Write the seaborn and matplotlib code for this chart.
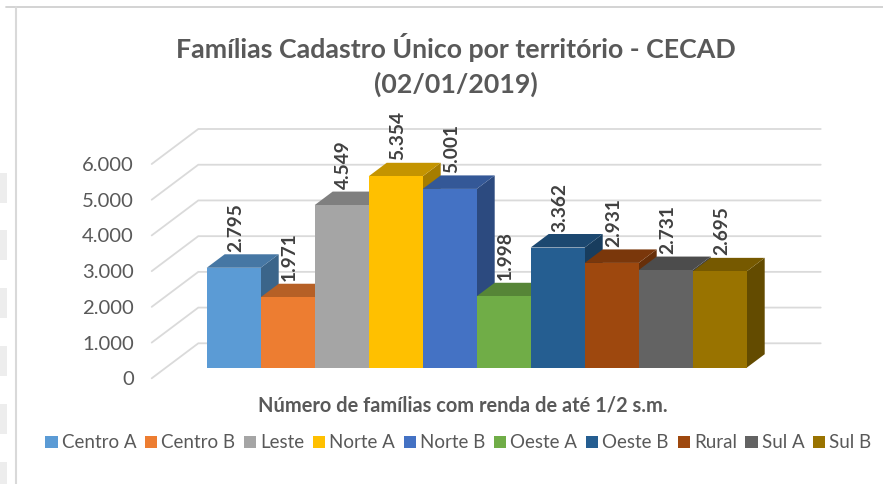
import numpy as np
import pandas as pd
import matplotlib
matplotlib.use("Agg")
import matplotlib.pyplot as plt
from matplotlib.colors import to_rgb
from matplotlib.lines import Line2D
from matplotlib.patches import Patch, Polygon, Rectangle
from matplotlib.transforms import Affine2D
import seaborn as sns

territories = ["Centro A", "Centro B", "Leste", "Norte A", "Norte B",
               "Oeste A", "Oeste B", "Rural", "Sul A", "Sul B"]
families = [2795, 1971, 4549, 5354, 5001, 1998, 3362, 2931, 2731, 2695]
colors = ["#5B9BD5", "#ED7D31", "#A5A5A5", "#FFC000", "#4472C4",
          "#70AD47", "#255E91", "#9E480E", "#636363", "#997300"]
y_ticks = [0, 1000, 2000, 3000, 4000, 5000, 6000]
y_tick_labels = ["0", "1.000", "2.000", "3.000", "4.000", "5.000", "6.000"]
title_text = "Famílias Cadastro Único por território - CECAD\n(02/01/2019)"
xlabel_text = "Número de famílias com renda de até 1/2 s.m."

W, H = 883, 484
sns.set_theme(style="white")
plt.rcParams["font.family"] = ["Lato", "DejaVu Sans"]
TEXT = "#595959"

fig = plt.figure(figsize=(W / 100, H / 100), dpi=100, facecolor="white")

def px_axes(x0, y_top, x1, y_bot):
    return fig.add_axes([x0 / W, 1 - y_bot / H, (x1 - x0) / W, (y_bot - y_top) / H])

# --- sheet artefacts around the picture -------------------------------------
pix = Affine2D().scale(1, -1).translate(0, H)
fig.add_artist(Line2D([6, W], [6.5, 6.5], color="#D0D0D0", lw=1.3, transform=pix))
fig.add_artist(Line2D([16, 16], [7, H], color="#D9D9D9", lw=1.5, transform=pix))
for top in (173, 230, 288, 346, 404, 462):
    fig.add_artist(Rectangle((0, top), 7, 30, color="#EDEDED", lw=0, transform=pix))

# --- back wall: tick labels and the bent gridlines ---------------------------
wall = px_axes(151.7, 164, 820.7, 378.3)
wall.patch.set_alpha(0)
wall.set_xlim(0, 1)
wall.set_ylim(0, 6000)
rise = 35 / (214.3 / 6000)      # depth of the wall in y-units
run = 46.6 / 669                # depth of the wall in x-units
for v in y_ticks:
    wall.plot([0, run, 1], [v, v + rise, v + rise], color="#DADADA", lw=1.3,
              clip_on=False, solid_joinstyle="miter", zorder=1)
wall.set_xticks([])
wall.set_yticks(y_ticks, y_tick_labels)
wall.tick_params(axis="y", length=0, pad=13, labelsize=14.6, labelcolor=TEXT)
sns.despine(ax=wall, left=True, bottom=True)

# --- bars: front faces via seaborn, depth faces from the same values ---------
bar_w = 54
scale = 0.03575                  # pixels per family
ax = px_axes(151.7, 129, 820.7, 378.3)
ax.patch.set_alpha(0)
df = pd.DataFrame({"territory": territories, "families": families})
sns.barplot(data=df, x="territory", y="families", hue="territory",
            palette=colors, width=1.0, dodge=False, legend=False, ax=ax,
            saturation=1, zorder=5, linewidth=0)
ax.set_xlim((151.7 - 233.7) / bar_w, (820.7 - 233.7) / bar_w)
ax.set_ylim(-(378.3 - 367.7) / scale, (367.7 - 129) / scale)
ax.set_xlabel("")
ax.set_ylabel("")
ax.set_xticks([])
ax.set_yticks([])
sns.despine(ax=ax, left=True, bottom=True)

dx_units = 18 / bar_w
dy_units = 13.5 / scale

def shade(c, k):
    return tuple(k * ch for ch in to_rgb(c))

for i, (val, col) in enumerate(zip(families, colors)):
    l, r = i - 0.5, i + 0.5
    side = [(r, 0), (r + dx_units, dy_units), (r + dx_units, val + dy_units), (r, val)]
    top = [(l, val), (l + dx_units, val + dy_units), (r + dx_units, val + dy_units), (r, val)]
    ax.add_patch(Polygon(side, closed=True, fc=shade(col, 0.65), ec="none", zorder=2 + i * 0.01))
    ax.add_patch(Polygon(top, closed=True, fc=shade(col, 0.77), ec="none", zorder=2 + i * 0.01 + 0.005))
    ax.annotate(f"{val:,}".replace(",", "."), (i, val), xytext=(1.3, 11.5),
                textcoords="offset points", rotation=90, ha="center", va="bottom",
                fontsize=13.8, color="#404040", fontweight="bold", zorder=8,
                annotation_clip=False)

# --- text --------------------------------------------------------------------
fig.text(456 / W, 1 - 65 / H, title_text, ha="center", va="center", fontsize=19.3,
         fontweight="bold", color=TEXT, linespacing=1.5)
fig.text(463 / W, 1 - 406 / H, xlabel_text, ha="center", va="center", fontsize=14.4,
         fontweight="bold", color=TEXT)

handles = [Patch(fc=c, ec="none", label=t) for t, c in zip(territories, colors)]
fig.legend(handles=handles, loc="center", bbox_to_anchor=(458.5 / W, 1 - 443 / H),
           ncol=10, frameon=False, fontsize=13.5, labelcolor=TEXT,
           handlelength=0.65, handleheight=0.65, handletextpad=0.22,
           columnspacing=0.46, borderpad=0, borderaxespad=0)

fig.savefig("out.png", dpi=100)
